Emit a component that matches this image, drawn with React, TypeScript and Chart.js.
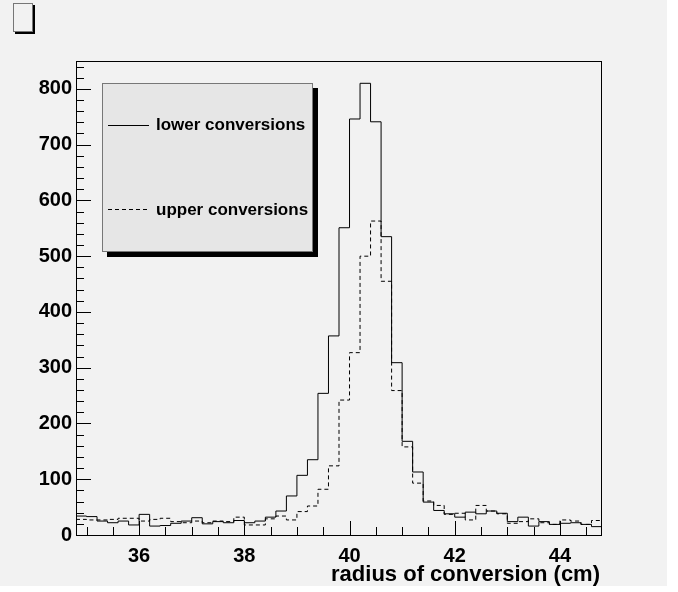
import React, { useEffect, useRef } from "react";
import { Chart, registerables } from "chart.js";

Chart.register(...registerables);

// Histogram binning: 50 bins of 0.2 cm from 34.8 to 44.8 cm
const xLow = 34.8;
const binWidth = 0.2;

// Entries per bin
const lowerConversions = [
  34, 33, 25, 22, 25, 18, 37, 16, 17, 21,
  25, 31, 20, 24, 22, 26, 22, 25, 32, 43,
  70, 107, 135, 254, 357, 551, 746, 810, 741, 535,
  309, 168, 113, 59, 44, 38, 32, 41, 38, 43,
  39, 24, 32, 16, 24, 19, 21, 22, 19, 15,
];
const upperConversions = [
  28, 27, 27, 28, 30, 30, 25, 28, 30, 24,
  22, 25, 22, 25, 24, 32, 18, 18, 29, 34,
  27, 42, 52, 82, 124, 242, 327, 500, 563, 455,
  259, 158, 93, 61, 53, 37, 39, 27, 53, 43,
  38, 21, 24, 29, 22, 19, 27, 25, 19, 26,
];

const xTickValues = [36, 38, 40, 42, 44];
const yTickValues = [0, 100, 200, 300, 400, 500, 600, 700, 800];
const xAxisTitle = "radius of conversion (cm)";
const legendLabels = ["lower conversions", "upper conversions"];

const FONT = "'Liberation Sans', Arial, Helvetica, sans-serif";

// Turn bin contents into step points at the bin low edges, closing at the last high edge
function toSteps(values: number[]) {
  const pts = values.map((v, i) => ({ x: xLow + i * binWidth, y: v }));
  pts.push({ x: xLow + values.length * binWidth, y: values[values.length - 1] });
  return pts;
}

const rootStyle = {
  id: "rootStyle",
  beforeDraw(chart: any) {
    const ctx = chart.ctx;
    ctx.save();
    ctx.fillStyle = "#ffffff";
    ctx.fillRect(0, 0, chart.width, chart.height);
    ctx.fillStyle = "#f2f2f2";
    ctx.fillRect(0, 0, 667, 586);

    // empty title box with shadow
    ctx.fillStyle = "#000";
    ctx.fillRect(15, 5, 20, 29);
    ctx.fillStyle = "#f2f2f2";
    ctx.fillRect(13, 3, 20, 29);
    ctx.strokeStyle = "#777";
    ctx.lineWidth = 1;
    ctx.strokeRect(13.5, 3.5, 19, 28);
    ctx.restore();
  },
  afterDraw(chart: any) {
    const ctx = chart.ctx;
    const { left, right, top, bottom } = chart.chartArea;
    const xs = chart.scales.x;
    const ys = chart.scales.y;
    ctx.save();

    // frame
    ctx.strokeStyle = "#000";
    ctx.lineWidth = 1;
    ctx.strokeRect(Math.round(left) + 0.5, Math.round(top) + 0.5, Math.round(right - left) - 1, Math.round(bottom - top));

    // inside tick marks, y axis
    ctx.beginPath();
    for (let v = 0; v <= 850; v += 20) {
      const y = Math.round(ys.getPixelForValue(v)) + 0.5;
      const len = v % 100 === 0 ? 15 : 8;
      ctx.moveTo(left, y);
      ctx.lineTo(left + len, y);
    }
    // inside tick marks, x axis
    for (let k = 70; k <= 89; k++) {
      const v = k / 2;
      const x = Math.round(xs.getPixelForValue(v)) + 0.5;
      const len = k % 4 === 0 ? 14 : 8;
      ctx.moveTo(x, bottom);
      ctx.lineTo(x, bottom - len);
    }
    ctx.stroke();

    // x axis title
    ctx.fillStyle = "#000";
    ctx.font = `bold 22px ${FONT}`;
    ctx.textAlign = "right";
    ctx.textBaseline = "alphabetic";
    ctx.fillText(xAxisTitle, right - 2, 581);

    // legend box
    const bx = 102, by = 83, bw = 211, bh = 169;
    ctx.fillStyle = "#000";
    ctx.fillRect(bx + 5, by + 5, bw, bh);
    ctx.fillStyle = "#e6e6e6";
    ctx.fillRect(bx, by, bw, bh);
    ctx.strokeStyle = "#777";
    ctx.strokeRect(bx + 0.5, by + 0.5, bw - 1, bh - 1);

    ctx.strokeStyle = "#000";
    ctx.beginPath();
    ctx.moveTo(108, 125.5);
    ctx.lineTo(149, 125.5);
    ctx.stroke();
    ctx.setLineDash([4, 3]);
    ctx.beginPath();
    ctx.moveTo(108, 209.5);
    ctx.lineTo(150, 209.5);
    ctx.stroke();
    ctx.setLineDash([]);

    ctx.fillStyle = "#000";
    ctx.font = `bold 17px ${FONT}`;
    ctx.textAlign = "left";
    ctx.fillText(legendLabels[0], 156, 130);
    ctx.fillText(legendLabels[1], 156, 215);
    ctx.restore();
  },
};

export default function App() {
  const canvasRef = useRef<HTMLCanvasElement | null>(null);

  useEffect(() => {
    document.body.style.margin = "0";
    const canvas = canvasRef.current;
    if (!canvas) return;
    const chart = new Chart(canvas, {
      type: "line",
      data: {
        datasets: [
          {
            label: legendLabels[0],
            data: toSteps(lowerConversions),
            stepped: "before",
            borderColor: "#000",
            borderWidth: 1,
            pointRadius: 0,
            fill: false,
          },
          {
            label: legendLabels[1],
            data: toSteps(upperConversions),
            stepped: "before",
            borderColor: "#000",
            borderWidth: 1,
            borderDash: [4, 3],
            pointRadius: 0,
            fill: false,
          },
        ],
      },
      options: {
        animation: false,
        responsive: false,
        devicePixelRatio: 1,
        layout: { padding: { left: 8, top: 61, right: 76, bottom: 0 } },
        plugins: { legend: { display: false }, tooltip: { enabled: false } },
        scales: {
          x: {
            type: "linear",
            min: xLow,
            max: xLow + lowerConversions.length * binWidth,
            afterBuildTicks: (axis: any) => {
              axis.ticks = xTickValues.map((v) => ({ value: v }));
            },
            afterFit: (axis: any) => {
              axis.height = 57;
            },
            grid: { display: false, drawTicks: false },
            border: { display: false },
            ticks: {
              color: "#000",
              font: { family: FONT, size: 20, weight: "bold" },
              padding: 9,
              maxRotation: 0,
              autoSkip: false,
            },
          },
          y: {
            type: "linear",
            min: 0,
            max: 850,
            afterBuildTicks: (axis: any) => {
              axis.ticks = yTickValues.map((v) => ({ value: v }));
            },
            afterFit: (axis: any) => {
              axis.width = 68;
            },
            grid: { display: false, drawTicks: false },
            border: { display: false },
            ticks: {
              color: "#000",
              font: { family: FONT, size: 20, weight: "bold" },
              padding: 4,
              autoSkip: false,
            },
          },
        },
      },
      plugins: [rootStyle],
    } as any);
    return () => chart.destroy();
  }, []);

  return (
    <div style={{ position: "absolute", left: 0, top: 0, width: 678, height: 592 }}>
      <canvas ref={canvasRef} width={678} height={592} style={{ display: "block" }} />
    </div>
  );
}
